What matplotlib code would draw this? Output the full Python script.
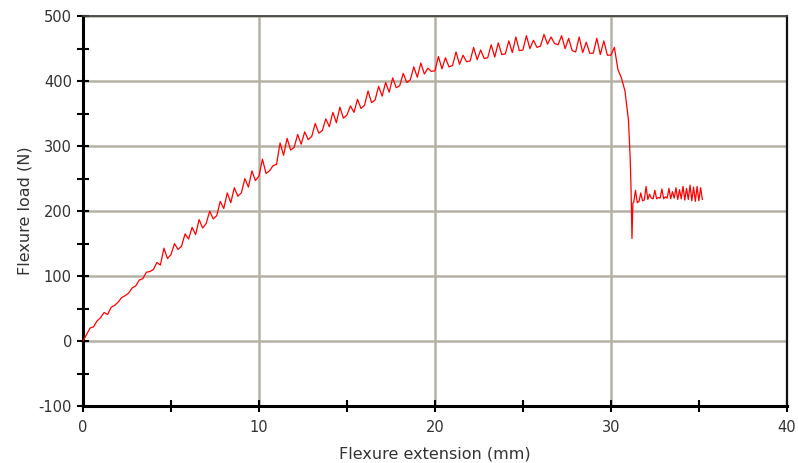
import matplotlib
matplotlib.use("Agg")
import matplotlib.pyplot as plt
from matplotlib.ticker import MultipleLocator

plt.rcParams["axes.unicode_minus"] = False

# ---- data (mm, N) ---------------------------------------------------------------
ext_rise = [0.0, 0.2, 0.4, 0.6, 0.8, 1.0, 1.2, 1.4, 1.6, 1.8,
            2.0, 2.2, 2.4, 2.6, 2.8, 3.0, 3.2, 3.4, 3.6, 3.8,
            4.0, 4.2, 4.4, 4.6, 4.8, 5.0, 5.2, 5.4, 5.6, 5.8,
            6.0, 6.2, 6.4, 6.6, 6.8, 7.0, 7.2, 7.4, 7.6, 7.8,
            8.0, 8.2, 8.4, 8.6, 8.8, 9.0, 9.2, 9.4, 9.6, 9.8,
            10.0, 10.2, 10.4, 10.6, 10.8, 11.0, 11.2, 11.4, 11.6, 11.8,
            12.0, 12.2, 12.4, 12.6, 12.8, 13.0, 13.2, 13.4, 13.6, 13.8,
            14.0, 14.2, 14.4, 14.6, 14.8, 15.0, 15.2, 15.4, 15.6, 15.8,
            16.0, 16.2, 16.4, 16.6, 16.8, 17.0, 17.2, 17.4, 17.6, 17.8,
            18.0, 18.2, 18.4, 18.6, 18.8, 19.0, 19.2, 19.4, 19.6, 19.8,
            20.0, 20.2, 20.4, 20.6, 20.8, 21.0, 21.2, 21.4, 21.6, 21.8,
            22.0, 22.2, 22.4, 22.6, 22.8, 23.0, 23.2, 23.4, 23.6, 23.8,
            24.0, 24.2, 24.4, 24.6, 24.8, 25.0, 25.2, 25.4, 25.6, 25.8,
            26.0, 26.2, 26.4, 26.6, 26.8, 27.0, 27.2, 27.4, 27.6, 27.8,
            28.0, 28.2, 28.4, 28.6, 28.8, 29.0, 29.2, 29.4, 29.6, 29.8]
load_rise = [0, 10, 20, 22, 31, 36, 44, 41, 52, 55,
             60, 67, 70, 74, 82, 85, 94, 96, 106, 107,
             110, 121, 117, 143, 127, 133, 150, 141, 146, 165,
             157, 175, 164, 187, 174, 181, 200, 188, 193, 215,
             204, 228, 213, 236, 223, 228, 250, 237, 262, 247,
             254, 280, 258, 262, 270, 272, 305, 286, 312, 294,
             298, 318, 303, 322, 310, 315, 335, 320, 324, 342,
             330, 352, 336, 360, 343, 348, 362, 352, 372, 358,
             363, 385, 367, 371, 392, 377, 398, 383, 405, 390,
             393, 412, 398, 402, 422, 406, 428, 411, 420, 415,
             416, 438, 419, 436, 422, 424, 445, 426, 440, 430,
             431, 452, 433, 448, 435, 436, 456, 437, 459, 441,
             442, 462, 444, 468, 447, 448, 470, 450, 463, 452,
             454, 472, 457, 468, 458, 456, 470, 450, 466, 447,
             445, 468, 444, 460, 443, 443, 466, 441, 462, 440]

ext_break = [30.0, 30.2, 30.4, 30.6, 30.8, 31.0, 31.1, 31.15, 31.2, 31.25]
load_break = [440, 452, 418, 405, 385, 340, 280, 230, 158, 212]

ext_resid = [31.3, 31.4, 31.5, 31.6, 31.7, 31.8, 31.9, 32.0, 32.1, 32.2,
             32.3, 32.4, 32.5, 32.6, 32.7, 32.8, 32.9, 33.0, 33.1, 33.2,
             33.3, 33.4, 33.5, 33.6, 33.7, 33.8, 33.9, 34.0, 34.1, 34.2,
             34.3, 34.4, 34.5, 34.6, 34.7, 34.8, 34.9, 35.0, 35.1, 35.2]
load_resid = [214, 232, 213, 215, 228, 216, 217, 238, 218, 226,
              220, 219, 232, 219, 221, 220, 234, 219, 222, 220,
              235, 219, 230, 220, 236, 218, 233, 219, 238, 217,
              235, 218, 240, 216, 237, 215, 238, 216, 236, 218]

ext = ext_rise + ext_break + ext_resid
load = load_rise + load_break + load_resid

# ---- figure -----------------------------------------------------------------------
fig = plt.figure(figsize=(7.98, 4.63), dpi=100)
ax = fig.add_axes([0.104, 0.123, 0.882, 0.842])
ax.plot(ext, load, color="#ff0000", lw=0.9, zorder=3)

ax.set_xlim(0, 40)
ax.set_ylim(-100, 500)
ax.xaxis.set_major_locator(MultipleLocator(10))
ax.xaxis.set_minor_locator(MultipleLocator(5))
ax.yaxis.set_major_locator(MultipleLocator(100))
ax.yaxis.set_minor_locator(MultipleLocator(50))
ax.grid(which="major", color="#b5b1a5", lw=1.8)
ax.set_axisbelow(True)

ax.tick_params(which="both", direction="inout", length=8, width=1.5,
               color="black", labelsize=10.5, labelcolor="#333333", pad=4)
ax.tick_params(axis="x", which="major", pad=6)
for side in ("left", "bottom"):
    ax.spines[side].set_linewidth(2.2)
    ax.spines[side].set_color("black")
ax.spines["right"].set_linewidth(1.6)
ax.spines["right"].set_color("#111111")
ax.spines["top"].set_linewidth(1.3)
ax.spines["top"].set_color("#444444")

ax.set_xlabel("Flexure extension (mm)", fontsize=11.5, color="#333333", labelpad=8)
ax.set_ylabel("Flexure load (N)", fontsize=11.5, color="#333333", labelpad=4)

fig.savefig("out.png", dpi=100)
